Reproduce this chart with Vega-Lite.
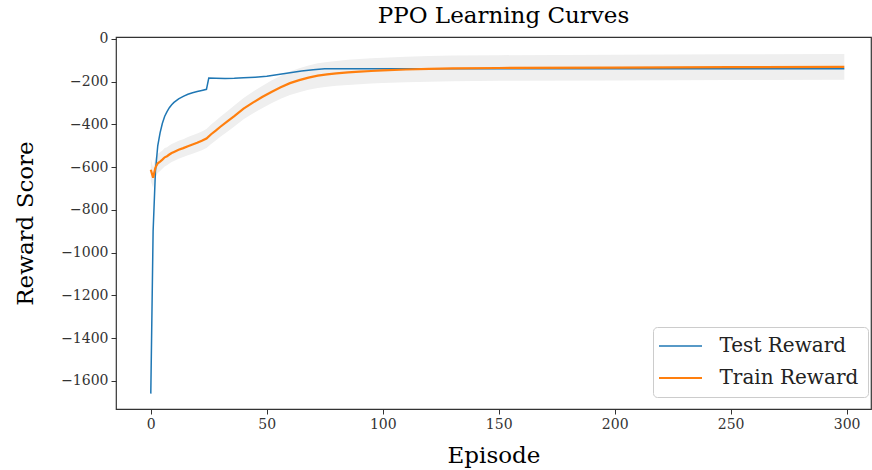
{
  "$schema": "https://vega.github.io/schema/vega-lite/v6.json",
  "autosize": {"type": "none"},
  "padding": {"left": 116, "top": 37, "right": 1, "bottom": 61},
  "width": 755,
  "height": 372,
  "background": "white",
  "title": {
    "text": "PPO Learning Curves",
    "font": "DejaVu Serif",
    "fontSize": 23,
    "fontWeight": "normal",
    "color": "#000000",
    "baseline": "bottom",
    "offset": 0,
    "dy": 19,
    "dx": 10,
    "anchor": "middle"
  },
  "config": {
    "font": "DejaVu Serif",
    "view": {"stroke": "#333333", "strokeWidth": 1.2},
    "axis": {
      "domain": false,
      "grid": false,
      "tickColor": "#333333",
      "tickSize": 5,
      "tickWidth": 1,
      "labelFont": "DejaVu Serif",
      "labelFontSize": 14,
      "labelColor": "#333333",
      "labelPadding": 3,
      "format": "d",
      "titleFont": "DejaVu Serif",
      "titleFontSize": 23,
      "titleFontWeight": "normal",
      "titleColor": "#000000"
    },
    "legend": {
      "labelFont": "DejaVu Serif",
      "labelFontSize": 20,
      "labelColor": "#222222"
    }
  },
  "datasets": {
    "test": [
      {"episode": 0, "reward": -1660, "series": "Test Reward"},
      {"episode": 1, "reward": -900, "series": "Test Reward"},
      {"episode": 2, "reward": -620, "series": "Test Reward"},
      {"episode": 3, "reward": -500, "series": "Test Reward"},
      {"episode": 4, "reward": -440, "series": "Test Reward"},
      {"episode": 5, "reward": -395, "series": "Test Reward"},
      {"episode": 6, "reward": -362, "series": "Test Reward"},
      {"episode": 7, "reward": -340, "series": "Test Reward"},
      {"episode": 8, "reward": -322, "series": "Test Reward"},
      {"episode": 9, "reward": -308, "series": "Test Reward"},
      {"episode": 10, "reward": -297, "series": "Test Reward"},
      {"episode": 12, "reward": -281, "series": "Test Reward"},
      {"episode": 14, "reward": -269, "series": "Test Reward"},
      {"episode": 16, "reward": -259, "series": "Test Reward"},
      {"episode": 18, "reward": -252, "series": "Test Reward"},
      {"episode": 20, "reward": -246, "series": "Test Reward"},
      {"episode": 22, "reward": -241, "series": "Test Reward"},
      {"episode": 24, "reward": -236, "series": "Test Reward"},
      {"episode": 25, "reward": -183, "series": "Test Reward"},
      {"episode": 28, "reward": -184, "series": "Test Reward"},
      {"episode": 32, "reward": -185, "series": "Test Reward"},
      {"episode": 36, "reward": -184, "series": "Test Reward"},
      {"episode": 40, "reward": -182, "series": "Test Reward"},
      {"episode": 45, "reward": -179, "series": "Test Reward"},
      {"episode": 50, "reward": -175, "series": "Test Reward"},
      {"episode": 55, "reward": -167, "series": "Test Reward"},
      {"episode": 60, "reward": -158, "series": "Test Reward"},
      {"episode": 65, "reward": -150, "series": "Test Reward"},
      {"episode": 70, "reward": -144, "series": "Test Reward"},
      {"episode": 75, "reward": -140, "series": "Test Reward"},
      {"episode": 80, "reward": -140, "series": "Test Reward"},
      {"episode": 100, "reward": -140, "series": "Test Reward"},
      {"episode": 150, "reward": -140, "series": "Test Reward"},
      {"episode": 200, "reward": -140, "series": "Test Reward"},
      {"episode": 250, "reward": -140, "series": "Test Reward"},
      {"episode": 299, "reward": -140, "series": "Test Reward"}
    ],
    "train": [
      {"episode": 0, "reward": -612, "lo": -665, "hi": -560, "series": "Train Reward"},
      {"episode": 1, "reward": -650, "lo": -698, "hi": -602, "series": "Train Reward"},
      {"episode": 2, "reward": -602, "lo": -648, "hi": -556, "series": "Train Reward"},
      {"episode": 3, "reward": -582, "lo": -627, "hi": -537, "series": "Train Reward"},
      {"episode": 4, "reward": -574, "lo": -618, "hi": -530, "series": "Train Reward"},
      {"episode": 5, "reward": -565, "lo": -608, "hi": -522, "series": "Train Reward"},
      {"episode": 6, "reward": -554, "lo": -597, "hi": -511, "series": "Train Reward"},
      {"episode": 7, "reward": -549, "lo": -591, "hi": -507, "series": "Train Reward"},
      {"episode": 8, "reward": -541, "lo": -583, "hi": -499, "series": "Train Reward"},
      {"episode": 9, "reward": -534, "lo": -576, "hi": -492, "series": "Train Reward"},
      {"episode": 10, "reward": -529, "lo": -571, "hi": -487, "series": "Train Reward"},
      {"episode": 12, "reward": -519, "lo": -561, "hi": -477, "series": "Train Reward"},
      {"episode": 14, "reward": -511, "lo": -553, "hi": -469, "series": "Train Reward"},
      {"episode": 16, "reward": -502, "lo": -545, "hi": -459, "series": "Train Reward"},
      {"episode": 18, "reward": -494, "lo": -537, "hi": -451, "series": "Train Reward"},
      {"episode": 20, "reward": -486, "lo": -529, "hi": -443, "series": "Train Reward"},
      {"episode": 22, "reward": -477, "lo": -521, "hi": -433, "series": "Train Reward"},
      {"episode": 24, "reward": -466, "lo": -511, "hi": -421, "series": "Train Reward"},
      {"episode": 26, "reward": -446, "lo": -492, "hi": -400, "series": "Train Reward"},
      {"episode": 28, "reward": -429, "lo": -475, "hi": -383, "series": "Train Reward"},
      {"episode": 30, "reward": -411, "lo": -458, "hi": -364, "series": "Train Reward"},
      {"episode": 33, "reward": -386, "lo": -434, "hi": -338, "series": "Train Reward"},
      {"episode": 36, "reward": -361, "lo": -410, "hi": -312, "series": "Train Reward"},
      {"episode": 40, "reward": -326, "lo": -376, "hi": -276, "series": "Train Reward"},
      {"episode": 44, "reward": -298, "lo": -349, "hi": -247, "series": "Train Reward"},
      {"episode": 48, "reward": -272, "lo": -324, "hi": -220, "series": "Train Reward"},
      {"episode": 52, "reward": -248, "lo": -301, "hi": -195, "series": "Train Reward"},
      {"episode": 56, "reward": -226, "lo": -280, "hi": -172, "series": "Train Reward"},
      {"episode": 60, "reward": -207, "lo": -262, "hi": -152, "series": "Train Reward"},
      {"episode": 64, "reward": -193, "lo": -249, "hi": -137, "series": "Train Reward"},
      {"episode": 68, "reward": -181, "lo": -238, "hi": -124, "series": "Train Reward"},
      {"episode": 72, "reward": -172, "lo": -230, "hi": -114, "series": "Train Reward"},
      {"episode": 76, "reward": -166, "lo": -224, "hi": -108, "series": "Train Reward"},
      {"episode": 80, "reward": -161, "lo": -219, "hi": -103, "series": "Train Reward"},
      {"episode": 85, "reward": -157, "lo": -216, "hi": -98, "series": "Train Reward"},
      {"episode": 90, "reward": -153, "lo": -212, "hi": -94, "series": "Train Reward"},
      {"episode": 95, "reward": -150, "lo": -209, "hi": -91, "series": "Train Reward"},
      {"episode": 100, "reward": -147, "lo": -206, "hi": -88, "series": "Train Reward"},
      {"episode": 110, "reward": -143, "lo": -203, "hi": -83, "series": "Train Reward"},
      {"episode": 120, "reward": -140, "lo": -200, "hi": -80, "series": "Train Reward"},
      {"episode": 130, "reward": -138, "lo": -198, "hi": -78, "series": "Train Reward"},
      {"episode": 150, "reward": -136, "lo": -196, "hi": -76, "series": "Train Reward"},
      {"episode": 200, "reward": -134, "lo": -194, "hi": -74, "series": "Train Reward"},
      {"episode": 250, "reward": -132, "lo": -192, "hi": -72, "series": "Train Reward"},
      {"episode": 299, "reward": -131, "lo": -191, "hi": -71, "series": "Train Reward"}
    ]
  },
  "encoding": {
    "x": {
      "field": "episode",
      "type": "quantitative",
      "scale": {"domain": [-15, 310.5], "nice": false, "zero": false},
      "axis": {"values": [0, 50, 100, 150, 200, 250, 300], "title": "Episode", "titlePadding": 13}
    }
  },
  "layer": [
    {
      "data": {"name": "train"},
      "mark": {"type": "area", "color": "#efefef", "opacity": 1},
      "encoding": {
        "y": {
          "field": "lo",
          "type": "quantitative",
          "scale": {"domain": [-1732, 9], "nice": false, "zero": false},
          "axis": {"values": [-1600, -1400, -1200, -1000, -800, -600, -400, -200, 0], "title": "Reward Score", "titlePadding": 23}
        },
        "y2": {"field": "hi"}
      }
    },
    {
      "data": {"name": "test"},
      "mark": {"type": "line"},
      "encoding": {
        "y": {"field": "reward", "type": "quantitative"},
        "color": {"field": "series", "type": "nominal"},
        "strokeWidth": {"field": "series", "type": "nominal"}
      }
    },
    {
      "data": {"name": "train"},
      "mark": {"type": "line"},
      "encoding": {
        "y": {"field": "reward", "type": "quantitative"},
        "color": {
          "field": "series",
          "type": "nominal",
          "scale": {"domain": ["Test Reward", "Train Reward"], "range": ["#1f77b4", "#ff7f0e"]},
          "legend": {
            "title": null,
            "orient": "none",
            "legendX": 537,
            "legendY": 290,
            "symbolType": "M-4.3,0H4.3",
            "symbolSize": 100,
            "symbolOffset": 8.5,
            "labelOffset": 29,
            "padding": 9,
            "rowPadding": 12,
            "strokeColor": "#cccccc",
            "fillColor": "white",
            "cornerRadius": 4
          }
        },
        "strokeWidth": {
          "field": "series",
          "type": "nominal",
          "scale": {"domain": ["Test Reward", "Train Reward"], "range": [1.5, 2.2]}
        }
      }
    }
  ],
  "resolve": {"scale": {"y": "shared"}}
}
